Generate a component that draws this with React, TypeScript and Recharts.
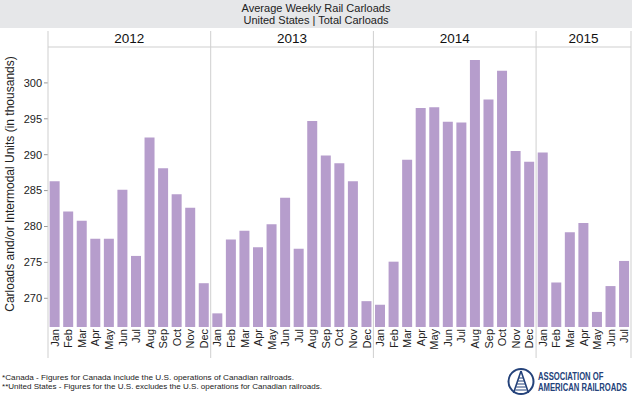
import React from "react";
import {Bar, BarChart, XAxis, YAxis} from "recharts";

const years = ['2012', '2013', '2014', '2015'];
const monthNames = ['Jan', 'Feb', 'Mar', 'Apr', 'May', 'Jun', 'Jul', 'Aug', 'Sep', 'Oct', 'Nov', 'Dec'];

// average weekly carloads, thousands
const carloads2012 = [286.3, 282.1, 280.8, 278.3, 278.3, 285.1, 275.9, 292.4, 288.1, 284.5, 282.6, 272.1];
const carloads2013 = [267.9, 278.2, 279.4, 277.1, 280.3, 284.0, 276.9, 294.7, 289.9, 288.8, 286.3, 269.6];
const carloads2014 = [269.1, 275.1, 289.3, 296.5, 296.6, 294.6, 294.5, 303.2, 297.7, 301.7, 290.5, 289.0];
const carloads2015 = [290.3, 272.2, 279.2, 280.5, 268.1, 271.7, 275.2];

const yTicks = [270, 275, 280, 285, 290, 295, 300];

const seriesByYear = [carloads2012, carloads2013, carloads2014, carloads2015];

const chartData = seriesByYear.flatMap((vals, yi) =>
    vals.map((v, mi) => ({
        key: `${years[yi]}-${monthNames[mi]}`,
        year: years[yi],
        month: monthNames[mi],
        count: vals.length,
        value: v,
    }))
);

const FONT = '"Liberation Sans", Arial, Helvetica, sans-serif';
const W = 638;
const H = 399;
const M = {top: 47, right: 7, bottom: 42, left: 0};
const Y_AXIS_W = 48;
const X_AXIS_H = 30;
const PLOT_BOTTOM = H - M.bottom - X_AXIS_H;
const BAND = (W - M.left - M.right - Y_AXIS_W) / chartData.length;
const GRID = '#cfcfcf';
const BAR = '#b69dcc';
const NAVY = '#24427a';

const MonthTick = (props: any) => {
    const {x, index, payload} = props;
    const row = chartData[index];
    if (!row) return null;
    const half = payload && payload.offset ? payload.offset : BAND / 2;
    const left = x - half;
    const first = row.month === 'Jan' || index === 0;
    const last = index === chartData.length - 1;
    return (
        <g>
            <text
                transform={`translate(${x},${PLOT_BOTTOM + 2}) rotate(-90)`}
                textAnchor="end"
                dy="0.36em"
                fontSize={11}
                fill="#222"
                fontFamily={FONT}
            >
                {row.month}
            </text>
            {first && (
                <g>
                    <line x1={left} x2={left} y1={31} y2={358} stroke={GRID}/>
                    <line x1={left} x2={left + row.count * half * 2} y1={47} y2={47} stroke={GRID}/>
                    <text x={left + row.count * half} y={43} textAnchor="middle" fontSize={13.5}
                          fill="#111" fontFamily={FONT}>
                        {row.year}
                    </text>
                </g>
            )}
            {last && <line x1={x + half} x2={x + half} y1={31} y2={358} stroke={GRID}/>}
        </g>
    );
};

const YLabel = (props: any) => {
    const vb = props.viewBox || {x: 0, y: M.top, width: Y_AXIS_W, height: PLOT_BOTTOM - M.top};
    const cy = vb.y + vb.height / 2 - 3;
    return (
        <text transform={`translate(14,${cy}) rotate(-90)`} textAnchor="middle" fontSize={12}
              fill="#222" fontFamily={FONT}>
            Carloads and/or Intermodal Units (in thousands)
        </text>
    );
};

const Logo = () => (
    <svg width={132} height={32} style={{position: 'absolute', left: 504, top: 366}}>
        <circle cx={17} cy={15.5} r={12.5} fill="none" stroke={NAVY} strokeWidth={2}/>
        <path d="M17 5 L9.5 27 M17 5 L24.5 27" stroke={NAVY} strokeWidth={1.6} fill="none"/>
        {[12, 15, 18, 21, 24].map((ty) => (
            <line key={ty} x1={17 - (ty - 5) * 0.3} x2={17 + (ty - 5) * 0.3} y1={ty} y2={ty}
                  stroke={NAVY} strokeWidth={1}/>
        ))}
        <g transform="translate(34,0) scale(0.73,1)">
            <text x={0} y={14} fontSize={10.5} fontWeight="bold" fill={NAVY} fontFamily={FONT}>
                ASSOCIATION OF
            </text>
            <text x={0} y={25} fontSize={10.5} fontWeight="bold" fill={NAVY} fontFamily={FONT}>
                AMERICAN RAILROADS
            </text>
        </g>
    </svg>
);

export default function App() {
    return (
        <div style={{position: 'absolute', left: 0, top: 0, width: W, height: H, background: '#fff',
            fontFamily: FONT, overflow: 'hidden'}}>
            <div style={{position: 'absolute', left: 0, top: 0, width: 632, height: 28,
                background: '#e6e7e9', textAlign: 'center', fontSize: 11, lineHeight: '11.5px',
                color: '#222', paddingTop: 3, boxSizing: 'border-box'}}>
                <div>Average Weekly Rail Carloads</div>
                <div>United States | Total Carloads</div>
            </div>
            <div style={{position: 'absolute', left: 0, top: 0}}>
                <BarChart width={W} height={H} data={chartData} margin={M} barCategoryGap="12%">
                    <XAxis dataKey="key" interval={0} height={X_AXIS_H} axisLine={false} tickLine={false}
                           tick={<MonthTick/>}/>
                    <YAxis type="number" domain={[266, 305]} ticks={yTicks} allowDataOverflow width={Y_AXIS_W}
                           axisLine={false} tickSize={4} tickLine={{stroke: '#999'}}
                           tick={{fontSize: 11, fill: '#222', fontFamily: FONT}}
                           label={<YLabel/>}/>
                    <Bar dataKey="value" fill={BAR} isAnimationActive={false}/>
                </BarChart>
            </div>
            <svg width={360} height={24} style={{position: 'absolute', left: 0, top: 372}}>
                <text x={2} y={8} fontSize={7.6} fill="#222" fontFamily={FONT} textLength={292}
                      lengthAdjust="spacingAndGlyphs">
                    *Canada - Figures for Canada include the U.S. operations of Canadian railroads.
                </text>
                <text x={2} y={17} fontSize={7.6} fill="#222" fontFamily={FONT} textLength={320}
                      lengthAdjust="spacingAndGlyphs">
                    **United States - Figures for the U.S. excludes the U.S. operations for Canadian railroads.
                </text>
            </svg>
            <Logo/>
        </div>
    );
}
